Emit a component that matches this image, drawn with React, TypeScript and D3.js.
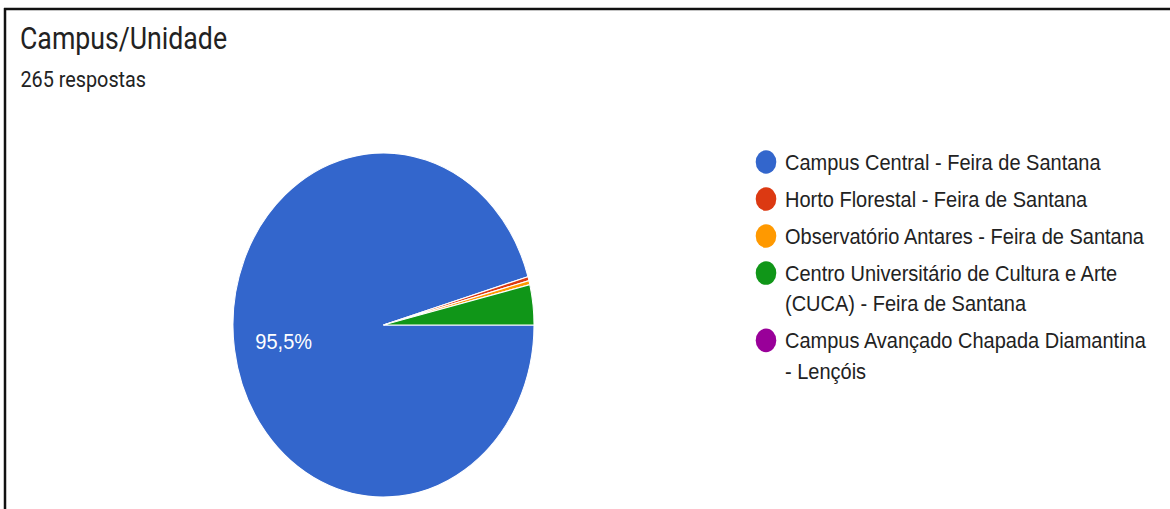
import React from "react";
import * as d3 from "d3";

const categories = [
  "Campus Central - Feira de Santana",
  "Horto Florestal - Feira de Santana",
  "Observatório Antares - Feira de Santana",
  "Centro Universitário de Cultura e Arte (CUCA) - Feira de Santana",
  "Campus Avançado Chapada Diamantina - Lençóis",
];
const legendLines = [
  ["Campus Central - Feira de Santana"],
  ["Horto Florestal - Feira de Santana"],
  ["Observatório Antares - Feira de Santana"],
  ["Centro Universitário de Cultura e Arte", "(CUCA) - Feira de Santana"],
  ["Campus Avançado Chapada Diamantina", "- Lençóis"],
];
const counts = [253, 1, 1, 10, 0];
const colors = ["#3366cc", "#dc3912", "#ff9900", "#109618", "#990099"];
const title = "Campus/Unidade";
const subtitle = "265 respostas";

const W = 1170;
const H = 509;
const K = 1.143; // vertical stretch of the picture

export default function App() {
  const total = d3.sum(counts);
  const cx = 383.5;
  const cy = 325 / K;
  const r = 150.5;

  const pie = d3
    .pie<number>()
    .sort(null)
    .value((d) => d)
    .startAngle(Math.PI / 2)
    .endAngle(Math.PI / 2 + 2 * Math.PI);
  const arcs = pie(counts);
  const arc = d3.arc<d3.PieArcDatum<number>>().innerRadius(0).outerRadius(r);
  const labelArc = d3
    .arc<d3.PieArcDatum<number>>()
    .innerRadius(r * 0.67)
    .outerRadius(r * 0.67);

  const fmt = (v: number) => (Math.round((v / total) * 1000) / 10).toFixed(1).replace(".", ",") + "%";

  const legendX = 766;
  const textX = 785;
  let y = 141.7;
  const rows: { idx: number; y: number; lines: string[] }[] = [];
  legendLines.forEach((lines, i) => {
    rows.push({ idx: i, y, lines });
    y += 32.4 + (lines.length - 1) * 26.5;
  });

  return (
    <svg
      width={W}
      height={H}
      style={{ position: "absolute", left: 0, top: 0, background: "#fff" }}
    >
      <rect x={0} y={0} width={W} height={H} fill="#fff" />
      <g transform={`scale(1, ${K})`}>
        <text
          x={20}
          y={49 / K}
          fontFamily="Roboto, Arial, sans-serif"
          fontSize={26.7}
          fill="#222"
        >
          {title}
        </text>
        <text
          x={20.5}
          y={87 / K}
          fontFamily="Roboto, Arial, sans-serif"
          fontSize={19.8}
          fill="#222"
        >
          {subtitle}
        </text>
        <g transform={`translate(${cx}, ${cy})`}>
          {arcs.map((a, i) =>
            a.value > 0 ? (
              <path
                key={i}
                d={arc(a) || ""}
                fill={colors[i]}
                stroke="#fff"
                strokeWidth={1}
              />
            ) : null
          )}
          {arcs.map((a, i) => {
            if (a.value / total < 0.05) return null;
            const [lx, ly] = labelArc.centroid(a);
            return (
              <text
                key={"l" + i}
                x={lx}
                y={ly + 7}
                textAnchor="middle"
                fontFamily="'Liberation Sans', Arial, sans-serif"
                fontSize={20}
                fill="#fff"
              >
                {fmt(a.value)}
              </text>
            );
          })}
        </g>
        {rows.map((row) => (
          <g key={row.idx}>
            <circle cx={legendX} cy={row.y} r={10.3} fill={colors[row.idx]} />
            {row.lines.map((ln, j) => (
              <text
                key={j}
                x={textX}
                y={row.y + 7 + j * 26.5}
                fontFamily="'Liberation Sans', Arial, sans-serif"
                fontSize={20}
                fill="#222"
              >
                {ln}
              </text>
            ))}
          </g>
        ))}
      </g>
      <line x1={4} y1={9} x2={W} y2={9} stroke="#111" strokeWidth={2.5} />
      <line x1={5} y1={8} x2={5} y2={H} stroke="#111" strokeWidth={2.5} />
    </svg>
  );
}
